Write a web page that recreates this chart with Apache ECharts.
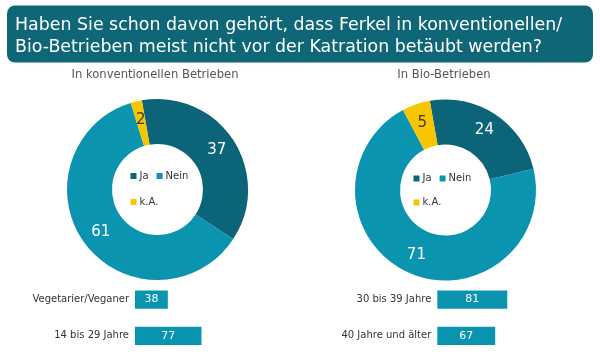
<!DOCTYPE html>
<html>
<head>
<meta charset="utf-8">
<script src="https://cdn.jsdelivr.net/npm/echarts@6/dist/echarts.min.js"></script>
<style>
  html, body { margin: 0; padding: 0; background: #fff; }
  #chart { width: 600px; height: 354px; }
</style>
</head>
<body>
<div id="chart"></div>
<script>
const answerNames = ['Ja', 'Nein', 'k.A.']
const konvValues = [37, 61, 2]
const bioValues = [24, 71, 5]

const leftBarCats = ['Vegetarier/Veganer', '14 bis 29 Jahre']
const leftBarValues = [38, 77]
const rightBarCats = ['30 bis 39 Jahre', '40 Jahre und älter']
const rightBarValues = [81, 67]

const colors = ['#0c6478', '#0a94b0', '#f7c600']
const font = 'DejaVu Sans'

const chart = echarts.init(document.getElementById('chart'))

const pieData = (values) => values.map((v, i) => ({
  name: answerNames[i],
  value: v,
  itemStyle: { color: colors[i] },
  label: { color: i === 2 ? '#3a3a3a' : '#ffffff' }
}))

const pieSeries = (center, values) => ({
  type: 'pie',
  center: center,
  radius: [45.5, 90.5],
  startAngle: 100,
  clockwise: true,
  avoidLabelOverlap: false,
  silent: true,
  label: {
    show: true,
    position: 'inside',
    formatter: '{c}',
    fontFamily: font,
    fontSize: 15
  },
  labelLine: { show: false },
  data: pieData(values)
})

const legendBase = {
  icon: 'rect',
  itemWidth: 6,
  itemHeight: 6,
  itemGap: 8,
  padding: 0,
  selectedMode: false,
  textStyle: {
    fontFamily: font,
    fontSize: 10,
    color: '#333',
    lineHeight: 12,
    padding: [0, 0, 0, -2]
  }
}

const barYAxis = (gridIndex, cats) => ({
  type: 'category',
  gridIndex: gridIndex,
  data: cats,
  inverse: true,
  axisLine: { show: false },
  axisTick: { show: false },
  axisLabel: {
    margin: 6,
    fontFamily: font,
    fontSize: 10,
    color: '#333'
  }
})

const barXAxis = (gridIndex) => ({
  type: 'value',
  gridIndex: gridIndex,
  min: 0,
  max: 100,
  show: false
})

const barSeries = (idx, values) => ({
  type: 'bar',
  xAxisIndex: idx,
  yAxisIndex: idx,
  barWidth: 18.3,
  silent: true,
  itemStyle: { color: '#0a94b0' },
  label: {
    show: true,
    position: 'inside',
    color: '#fff',
    fontFamily: font,
    fontSize: 11
  },
  data: values
})

const option = {
  animation: false,
  graphic: [
    {
      type: 'rect',
      shape: { x: 7, y: 5.5, width: 586, height: 57, r: 8 },
      style: { fill: '#0e6677' }
    },
    {
      type: 'text',
      left: 15,
      top: 14,
      style: {
        text: 'Haben Sie schon davon gehört, dass Ferkel in konventionellen/\nBio-Betrieben meist nicht vor der Katration betäubt werden?',
        fill: '#fff',
        font: '17.4px "DejaVu Sans"',
        lineHeight: 22
      }
    },
    {
      type: 'text',
      x: 155,
      y: 75,
      style: {
        text: 'In konventionellen Betrieben',
        fill: '#555',
        font: '11.6px "DejaVu Sans"',
        align: 'center',
        verticalAlign: 'middle'
      }
    },
    {
      type: 'text',
      x: 444,
      y: 75,
      style: {
        text: 'In Bio-Betrieben',
        fill: '#555',
        font: '11.6px "DejaVu Sans"',
        align: 'center',
        verticalAlign: 'middle'
      }
    }
  ],
  legend: [
    { ...legendBase, left: 130.5, top: 170, data: ['Ja', 'Nein'] },
    { ...legendBase, left: 130.5, top: 196, data: ['k.A.'] },
    { ...legendBase, left: 413.5, top: 172.5, data: ['Ja', 'Nein'] },
    { ...legendBase, left: 413.5, top: 196.5, data: ['k.A.'] }
  ],
  grid: [
    { left: 135, top: 281.5, width: 86.4, height: 74.6 },
    { left: 437.3, top: 281.5, width: 86.4, height: 74.6 }
  ],
  xAxis: [barXAxis(0), barXAxis(1)],
  yAxis: [barYAxis(0, leftBarCats), barYAxis(1, rightBarCats)],
  series: [
    pieSeries([157.5, 189.5], konvValues),
    pieSeries([445.5, 190], bioValues),
    barSeries(0, leftBarValues),
    barSeries(1, rightBarValues)
  ]
}

chart.setOption(option)
</script>
</body>
</html>
